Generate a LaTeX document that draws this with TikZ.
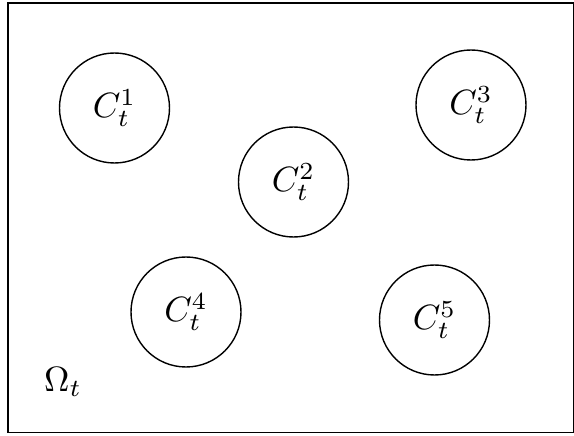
\documentclass[tikz,border=0pt]{standalone}
\usepackage{amsmath}
\usepackage{amssymb}
\usepackage{tikz}
\usetikzlibrary{positioning}

\begin{document}
\begin{tikzpicture}[
    blob/.style={circle, draw, minimum size=1.1cm, inner sep=0pt},
    label/.style={inner sep=0pt}
]
\useasboundingbox (0,0) rectangle (5.74,-4.36);

% Domain
\node[draw, minimum width=5.655cm, minimum height=4.295cm, anchor=north west, inner sep=0pt] (domain) at (0.075,-0.025) {};

% Particles
\node[blob] (c1) at (1.145,-1.08) {$C_t^1$};
\node[blob] (c2) at (2.935,-1.82) {$C_t^2$};
\node[blob] (c3) at (4.71,-1.05) {$C_t^3$};
\node[blob] (c4) at (1.86,-3.12) {$C_t^4$};
\node[blob] (c5) at (4.345,-3.20) {$C_t^5$};

% Domain label
\node[label] (omega) at (0.63,-3.82) {$\Omega_t$};

\end{tikzpicture}
\end{document}
